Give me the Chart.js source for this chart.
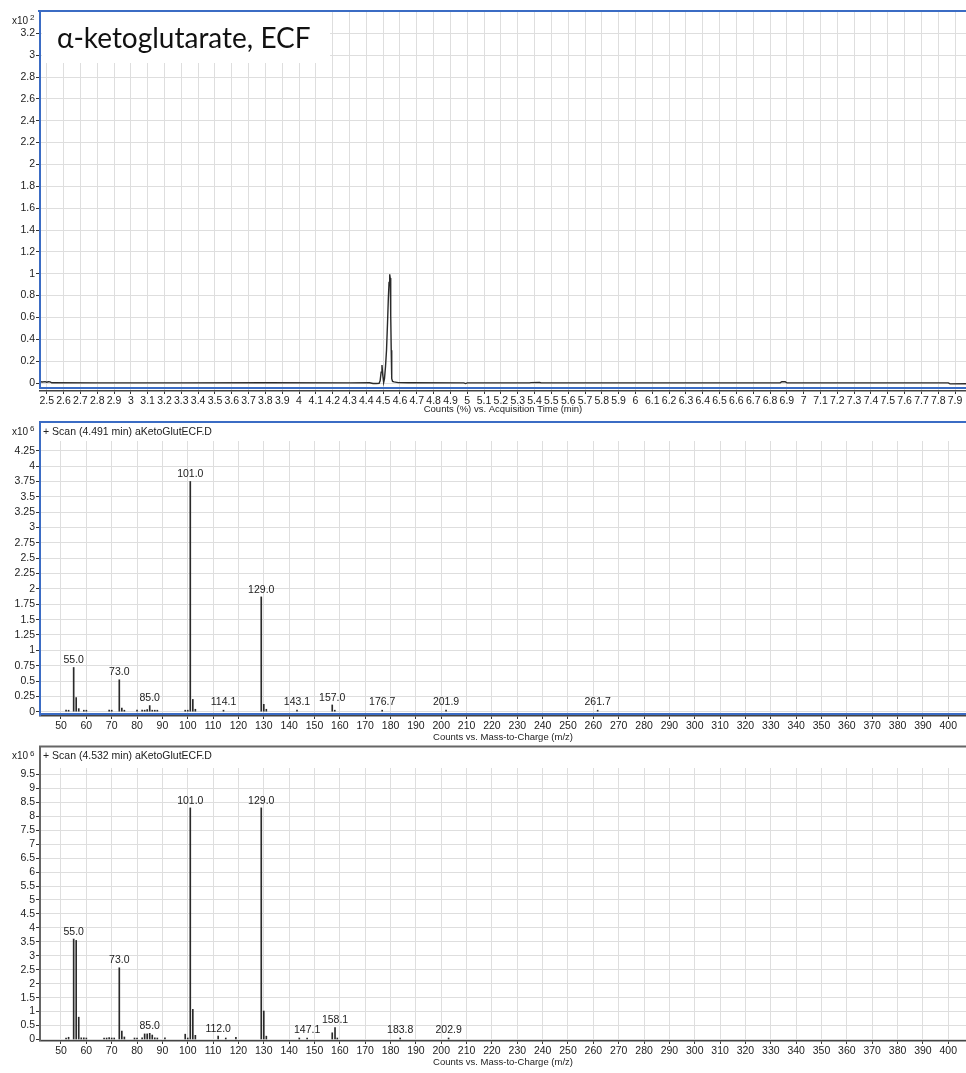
<!DOCTYPE html>
<html>
<head>
<meta charset="utf-8">
<script src="https://cdn.jsdelivr.net/npm/chart.js@4.4.0/dist/chart.umd.min.js"></script>
<style>
  body { margin: 0; background: #fff; }
  #wrap { position: relative; width: 966px; height: 1073px; }
  canvas { position: absolute; left: 0; }
</style>
</head>
<body>
<div id="wrap">
  <canvas id="tic" width="966" height="415" style="top:0"></canvas>
  <canvas id="scan1" width="966" height="330" style="top:415px"></canvas>
  <canvas id="scan2" width="966" height="328" style="top:745px"></canvas>
</div>
<script>
// --- chromatogram (Counts %, x10^2) ---
const ticTime = [2.46, 2.475, 2.49, 2.50, 2.51, 2.52, 2.53, 2.80, 3.30, 3.80,
  4.30, 4.42, 4.44, 4.46, 4.476, 4.482, 4.488, 4.493, 4.498, 4.503,
  4.508, 4.514, 4.520, 4.526, 4.531, 4.535, 4.539, 4.542, 4.545, 4.548,
  4.551, 4.556, 4.565, 4.59, 4.65, 4.98, 4.99, 5.00, 5.37, 5.38,
  5.43, 5.44, 6.20, 6.86, 6.87, 6.89, 6.90, 7.86, 7.87, 7.965];
const ticCounts = [0.012, 0.010, 0.013, 0.008, 0.012, 0.011, 0.002, 0.001, 0.001, 0.002,
  0.001, 0.002, -0.004, -0.004, -0.003, 0.02, 0.10, 0.165, 0.07, 0.005,
  0.04, 0.15, 0.30, 0.55, 0.78, 0.92, 0.995, 0.96, 0.62, 0.30,
  0.04, 0.015, 0.01, 0.004, 0.002, 0.001, -0.005, 0.001, 0.001, 0.004,
  0.005, 0.001, 0.001, 0.001, 0.012, 0.012, 0.001, 0.001, -0.008, -0.007];
const ticYTicks = [0, 0.2, 0.4, 0.6, 0.8, 1, 1.2, 1.4, 1.6, 1.8, 2, 2.2, 2.4, 2.6, 2.8, 3, 3.2];
const ticXTicks = [];
for (let t = 25; t <= 79; t++) ticXTicks.push(t / 10);

// --- scan at 4.491 min (x10^6) ---
const scan1Mz = [52, 53, 55, 56, 57, 59, 60, 69, 70, 73, 74, 75, 80, 82, 83, 84, 85, 86, 87, 88,
  99, 100, 101, 102, 103, 114.1, 129, 130, 131, 143.1, 157, 158, 176.7, 201.9, 261.7];
const scan1Abund = [0.01, 0.01, 0.72, 0.23, 0.05, 0.01, 0.01, 0.01, 0.01, 0.52, 0.06, 0.015, 0.005, 0.01, 0.025, 0.035, 0.1, 0.02, 0.01, 0.01,
  0.01, 0.01, 3.75, 0.2, 0.04, 0.01, 1.87, 0.12, 0.04, 0.01, 0.11, 0.015, 0.005, 0.005, 0.004];
const scan1Labels = [55.0, 73.0, 85.0, 101.0, 114.1, 129.0, 143.1, 157.0, 176.7, 201.9, 261.7];
const scan1YTicks = [0, 0.25, 0.5, 0.75, 1, 1.25, 1.5, 1.75, 2, 2.25, 2.5, 2.75, 3, 3.25, 3.5, 3.75, 4, 4.25];

// --- scan at 4.532 min (x10^6) ---
const scan2Mz = [52, 53, 55, 56, 57, 58, 59, 60, 67, 68, 69, 70, 71, 73, 74, 75, 79, 80,
  82, 83, 84, 85, 86, 87, 88, 91, 99, 100, 101, 102, 103, 112, 115, 119,
  129, 130, 131, 144, 147.1, 157, 158.1, 159, 183.8, 202.9];
const scan2Abund = [0.05, 0.08, 3.6, 3.55, 0.8, 0.06, 0.06, 0.04, 0.04, 0.04, 0.07, 0.04, 0.04, 2.57, 0.3, 0.09, 0.04, 0.04,
  0.06, 0.2, 0.2, 0.22, 0.16, 0.06, 0.04, 0.06, 0.19, 0.05, 8.3, 1.08, 0.15, 0.12, 0.05, 0.08,
  8.3, 1.02, 0.12, 0.02, 0.04, 0.24, 0.43, 0.05, 0.01, 0.01];
const scan2Labels = [55.0, 73.0, 85.0, 101.0, 112.0, 129.0, 147.1, 158.1, 183.8, 202.9];
const scan2YTicks = [0, 0.5, 1, 1.5, 2, 2.5, 3, 3.5, 4, 4.5, 5, 5.5, 6, 6.5, 7, 7.5, 8, 8.5, 9, 9.5];

const mzTicks = [];
for (let m = 50; m <= 400; m += 10) mzTicks.push(m);

const FONT = "'Liberation Sans', Arial, sans-serif";
const GRID = '#dedede';
const BLUE = '#3b6cc4';
const INK = '#222';

function font(size) { return size + 'px ' + FONT; }

function hline(ctx, color, w, x1, x2, y) {
  ctx.strokeStyle = color; ctx.lineWidth = w;
  ctx.beginPath(); ctx.moveTo(x1, y); ctx.lineTo(x2, y); ctx.stroke();
}
function vline(ctx, color, w, x, y1, y2) {
  ctx.strokeStyle = color; ctx.lineWidth = w;
  ctx.beginPath(); ctx.moveTo(x, y1); ctx.lineTo(x, y2); ctx.stroke();
}

function drawExponent(ctx, power, y) {
  ctx.fillStyle = INK;
  ctx.textAlign = 'left';
  ctx.textBaseline = 'middle';
  ctx.font = font(10);
  ctx.fillText('x10', 12, y);
  ctx.font = font(8);
  ctx.fillText(String(power), 30, y - 3);
}

function drawAxisTitle(chart, text, y) {
  const ctx = chart.ctx, a = chart.chartArea;
  ctx.fillStyle = INK;
  ctx.font = font(9.5);
  ctx.textAlign = 'center';
  ctx.textBaseline = 'middle';
  ctx.fillText(text, (a.left + a.right) / 2, y);
}

function xScale(min, max, ticks, height, fmt) {
  return {
    type: 'linear', min: min, max: max, offset: false,
    afterBuildTicks: s => { s.ticks = ticks.map(v => ({ value: v })); },
    afterFit: s => { s.height = height; },
    grid: { color: GRID, tickColor: '#333', tickLength: 3, offset: false },
    border: { color: '#444', width: 1.5 },
    ticks: { autoSkip: false, maxRotation: 0, padding: 1, color: INK,
      font: { family: FONT, size: 10.5 }, callback: fmt }
  };
}

function yScale(min, max, ticks) {
  return {
    min: min, max: max,
    afterBuildTicks: s => { s.ticks = ticks.map(v => ({ value: v })); },
    afterFit: s => { s.width = 40; },
    grid: { color: GRID, tickColor: '#333', tickLength: 4 },
    border: { display: false },
    ticks: { autoSkip: false, padding: 1, color: INK, font: { family: FONT, size: 10.5 },
      callback: v => String(v) }
  };
}

// chromatogram
const ticDecor = {
  id: 'ticDecor',
  beforeDatasetsDraw(chart) {
    const ctx = chart.ctx;
    ctx.save();
    ctx.fillStyle = '#fff';
    ctx.fillRect(42, 12, 288, 51);
    ctx.restore();
  },
  afterDraw(chart) {
    const ctx = chart.ctx, a = chart.chartArea;
    ctx.save();
    hline(ctx, BLUE, 2, 38, 966, 11);
    vline(ctx, BLUE, 2, 40, 10, 389);
    hline(ctx, BLUE, 2, 40, 966, 388);
    drawExponent(ctx, 2, 21);
    drawAxisTitle(chart, 'Counts (%) vs. Acquisition Time (min)', a.bottom + 18);
    ctx.fillStyle = '#111';
    ctx.textAlign = 'left';
    ctx.textBaseline = 'alphabetic';
    ctx.font = "28px Lato, 'Open Sans', sans-serif";
    ctx.fillText('\u03b1-ketoglutarate, ECF', 57, 48);
    ctx.restore();
  }
};

new Chart(document.getElementById('tic'), {
  type: 'line',
  data: {
    datasets: [{
      data: ticTime.map((t, i) => ({ x: t, y: ticCounts[i] })),
      borderColor: '#2a2a2a', borderWidth: 1.4, pointRadius: 0, tension: 0
    }]
  },
  options: {
    responsive: false, animation: false, events: [],
    layout: { padding: { top: 12, left: 0, right: 0, bottom: 0 } },
    plugins: { legend: { display: false }, tooltip: { enabled: false } },
    scales: {
      x: xScale(2.46, 7.965, ticXTicks, 24, v => String(Math.round(v * 10) / 10)),
      y: yScale(-0.073, 3.395, ticYTicks)
    }
  },
  plugins: [ticDecor]
});

// mass spectra
function spectrum(id, mz, abund, labels, yTicks, ymin, ymax, padTop, axisH, header, frame) {
  const decor = {
    id: 'specDecor',
    afterDatasetsDraw(chart) {
      const ctx = chart.ctx, x = chart.scales.x, y = chart.scales.y;
      ctx.save();
      ctx.fillStyle = INK;
      ctx.font = font(10.5);
      ctx.textAlign = 'center';
      ctx.textBaseline = 'bottom';
      labels.forEach(lab => {
        const i = mz.findIndex(m => Math.abs(m - lab) < 0.06);
        const top = Math.min(y.getPixelForValue(abund[i]), y.getPixelForValue(0) - 2);
        ctx.fillText(lab.toFixed(1), x.getPixelForValue(lab), top - 2);
      });
      ctx.restore();
    },
    afterDraw(chart) {
      const ctx = chart.ctx, a = chart.chartArea;
      ctx.save();
      const topY = frame.top;
      hline(ctx, frame.color, 2, 39, 966, topY);
      vline(ctx, frame.color, 2, 40, topY, a.bottom);
      if (frame.bottom) hline(ctx, frame.color, 2, 40, 966, a.bottom - 2);
      drawExponent(ctx, 6, topY + 10);
      ctx.fillStyle = INK;
      ctx.font = font(10.5);
      ctx.textAlign = 'left';
      ctx.textBaseline = 'middle';
      ctx.fillText(header, 43, topY + 10);
      drawAxisTitle(chart, 'Counts vs. Mass-to-Charge (m/z)', a.bottom + 21);
      ctx.restore();
    }
  };
  return new Chart(document.getElementById(id), {
    type: 'bar',
    data: {
      datasets: [{
        data: mz.map((m, i) => ({ x: m, y: abund[i] })),
        backgroundColor: '#2a2a2a', barThickness: 1, minBarLength: 1.5
      }]
    },
    options: {
      responsive: false, animation: false, events: [],
      layout: { padding: { top: padTop, left: 0, right: 0, bottom: 0 } },
      plugins: { legend: { display: false }, tooltip: { enabled: false } },
      scales: {
        x: xScale(41.72, 407, mzTicks, axisH, v => String(v)),
        y: yScale(ymin, ymax, yTicks)
      }
    },
    plugins: [decor]
  });
}

spectrum('scan1', scan1Mz, scan1Abund, scan1Labels, scan1YTicks, -0.07, 4.41, 26, 29,
  '+ Scan (4.491 min) aKetoGlutECF.D', { color: BLUE, top: 7, bottom: true });
spectrum('scan2', scan2Mz, scan2Abund, scan2Labels, scan2YTicks, -0.054, 9.73, 23, 32,
  '+ Scan (4.532 min) aKetoGlutECF.D', { color: '#666', top: 1.5, bottom: false });
</script>
</body>
</html>
